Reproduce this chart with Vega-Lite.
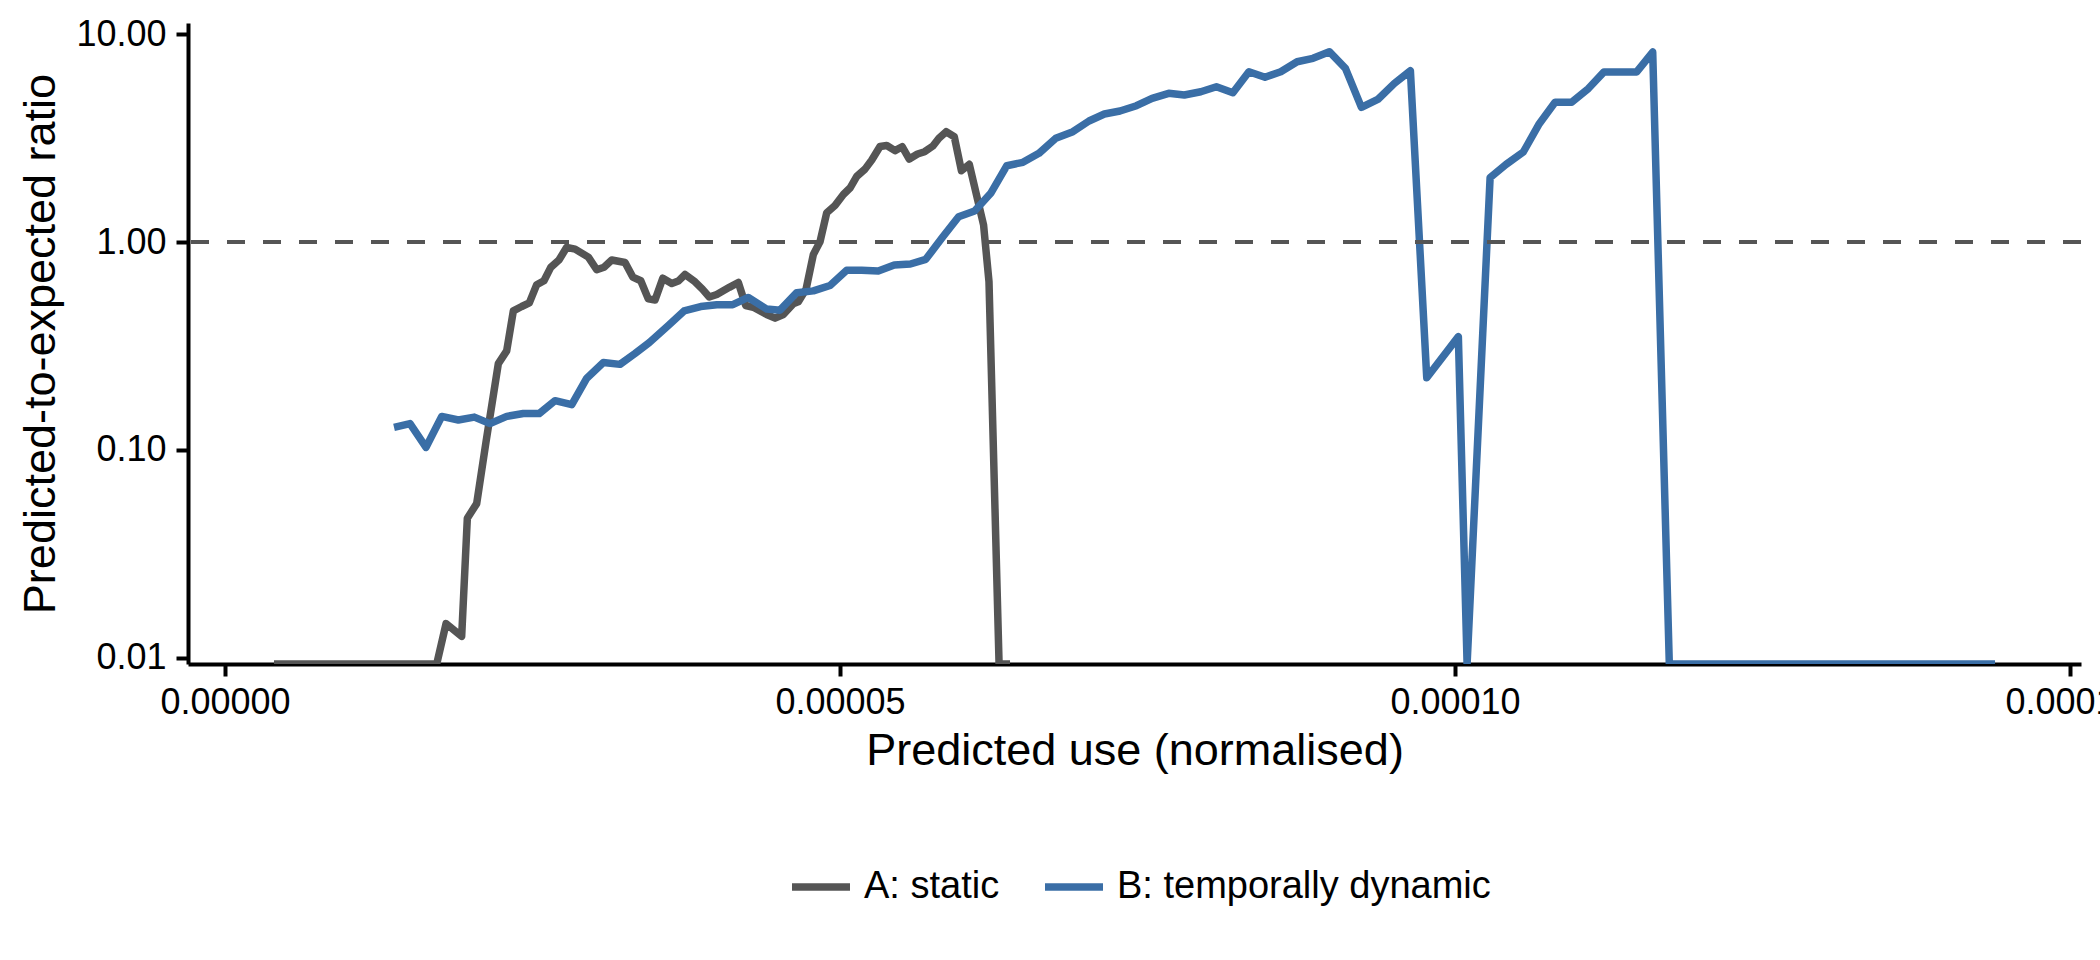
{
  "$schema": "https://vega.github.io/schema/vega-lite/v6.json",
  "width": 1893,
  "height": 641,
  "autosize": {"type": "none"},
  "padding": {"left": 188, "top": 23, "right": 19, "bottom": 296},
  "background": "white",
  "datasets": {
    "curves": [
      {"model": "A: static", "x": 0.398e-5, "r": 0.00935},
      {"model": "A: static", "x": 1.721e-5, "r": 0.00935},
      {"model": "A: static", "x": 1.797e-5, "r": 0.01463},
      {"model": "A: static", "x": 1.924e-5, "r": 0.0127},
      {"model": "A: static", "x": 1.970e-5, "r": 0.047},
      {"model": "A: static", "x": 2.046e-5, "r": 0.0552},
      {"model": "A: static", "x": 2.122e-5, "r": 0.1095},
      {"model": "A: static", "x": 2.222e-5, "r": 0.2602},
      {"model": "A: static", "x": 2.290e-5, "r": 0.2995},
      {"model": "A: static", "x": 2.344e-5, "r": 0.4664},
      {"model": "A: static", "x": 2.412e-5, "r": 0.4896},
      {"model": "A: static", "x": 2.474e-5, "r": 0.5096},
      {"model": "A: static", "x": 2.534e-5, "r": 0.6232},
      {"model": "A: static", "x": 2.593e-5, "r": 0.6514},
      {"model": "A: static", "x": 2.648e-5, "r": 0.7555},
      {"model": "A: static", "x": 2.715e-5, "r": 0.8193},
      {"model": "A: static", "x": 2.778e-5, "r": 0.943},
      {"model": "A: static", "x": 2.846e-5, "r": 0.9245},
      {"model": "A: static", "x": 2.954e-5, "r": 0.846},
      {"model": "A: static", "x": 3.022e-5, "r": 0.735},
      {"model": "A: static", "x": 3.081e-5, "r": 0.7555},
      {"model": "A: static", "x": 3.144e-5, "r": 0.8193},
      {"model": "A: static", "x": 3.252e-5, "r": 0.797},
      {"model": "A: static", "x": 3.315e-5, "r": 0.6782},
      {"model": "A: static", "x": 3.380e-5, "r": 0.6514},
      {"model": "A: static", "x": 3.441e-5, "r": 0.5325},
      {"model": "A: static", "x": 3.496e-5, "r": 0.5261},
      {"model": "A: static", "x": 3.559e-5, "r": 0.6698},
      {"model": "A: static", "x": 3.632e-5, "r": 0.631},
      {"model": "A: static", "x": 3.685e-5, "r": 0.6486},
      {"model": "A: static", "x": 3.740e-5, "r": 0.6979},
      {"model": "A: static", "x": 3.821e-5, "r": 0.6436},
      {"model": "A: static", "x": 3.881e-5, "r": 0.5935},
      {"model": "A: static", "x": 3.937e-5, "r": 0.5435},
      {"model": "A: static", "x": 3.998e-5, "r": 0.5594},
      {"model": "A: static", "x": 4.100e-5, "r": 0.6054},
      {"model": "A: static", "x": 4.173e-5, "r": 0.6385},
      {"model": "A: static", "x": 4.233e-5, "r": 0.4952},
      {"model": "A: static", "x": 4.295e-5, "r": 0.4854},
      {"model": "A: static", "x": 4.404e-5, "r": 0.448},
      {"model": "A: static", "x": 4.472e-5, "r": 0.4302},
      {"model": "A: static", "x": 4.539e-5, "r": 0.448},
      {"model": "A: static", "x": 4.620e-5, "r": 0.5056},
      {"model": "A: static", "x": 4.661e-5, "r": 0.5158},
      {"model": "A: static", "x": 4.724e-5, "r": 0.5935},
      {"model": "A: static", "x": 4.783e-5, "r": 0.8708},
      {"model": "A: static", "x": 4.837e-5, "r": 1.002},
      {"model": "A: static", "x": 4.892e-5, "r": 1.383},
      {"model": "A: static", "x": 4.959e-5, "r": 1.498},
      {"model": "A: static", "x": 5.027e-5, "r": 1.692},
      {"model": "A: static", "x": 5.081e-5, "r": 1.818},
      {"model": "A: static", "x": 5.136e-5, "r": 2.067},
      {"model": "A: static", "x": 5.203e-5, "r": 2.241},
      {"model": "A: static", "x": 5.258e-5, "r": 2.479},
      {"model": "A: static", "x": 5.325e-5, "r": 2.878},
      {"model": "A: static", "x": 5.380e-5, "r": 2.91},
      {"model": "A: static", "x": 5.447e-5, "r": 2.75},
      {"model": "A: static", "x": 5.505e-5, "r": 2.872},
      {"model": "A: static", "x": 5.563e-5, "r": 2.506},
      {"model": "A: static", "x": 5.630e-5, "r": 2.649},
      {"model": "A: static", "x": 5.688e-5, "r": 2.718},
      {"model": "A: static", "x": 5.755e-5, "r": 2.894},
      {"model": "A: static", "x": 5.804e-5, "r": 3.152},
      {"model": "A: static", "x": 5.863e-5, "r": 3.391},
      {"model": "A: static", "x": 5.929e-5, "r": 3.208},
      {"model": "A: static", "x": 5.987e-5, "r": 2.202},
      {"model": "A: static", "x": 6.051e-5, "r": 2.364},
      {"model": "A: static", "x": 6.167e-5, "r": 1.207},
      {"model": "A: static", "x": 6.211e-5, "r": 0.6443},
      {"model": "A: static", "x": 6.293e-5, "r": 0.00935},
      {"model": "A: static", "x": 6.382e-5, "r": 0.00935},
      {"model": "B: temporally dynamic", "x": 1.374e-5, "r": 0.1285},
      {"model": "B: temporally dynamic", "x": 1.504e-5, "r": 0.1339},
      {"model": "B: temporally dynamic", "x": 1.634e-5, "r": 0.103},
      {"model": "B: temporally dynamic", "x": 1.762e-5, "r": 0.145},
      {"model": "B: temporally dynamic", "x": 1.897e-5, "r": 0.1394},
      {"model": "B: temporally dynamic", "x": 2.027e-5, "r": 0.1439},
      {"model": "B: temporally dynamic", "x": 2.154e-5, "r": 0.1339},
      {"model": "B: temporally dynamic", "x": 2.290e-5, "r": 0.145},
      {"model": "B: temporally dynamic", "x": 2.425e-5, "r": 0.1498},
      {"model": "B: temporally dynamic", "x": 2.555e-5, "r": 0.1498},
      {"model": "B: temporally dynamic", "x": 2.683e-5, "r": 0.1726},
      {"model": "B: temporally dynamic", "x": 2.819e-5, "r": 0.1651},
      {"model": "B: temporally dynamic", "x": 2.941e-5, "r": 0.2214},
      {"model": "B: temporally dynamic", "x": 3.076e-5, "r": 0.2634},
      {"model": "B: temporally dynamic", "x": 3.211e-5, "r": 0.258},
      {"model": "B: temporally dynamic", "x": 3.333e-5, "r": 0.291},
      {"model": "B: temporally dynamic", "x": 3.450e-5, "r": 0.3287},
      {"model": "B: temporally dynamic", "x": 3.604e-5, "r": 0.3968},
      {"model": "B: temporally dynamic", "x": 3.732e-5, "r": 0.4664},
      {"model": "B: temporally dynamic", "x": 3.867e-5, "r": 0.4896},
      {"model": "B: temporally dynamic", "x": 3.998e-5, "r": 0.4995},
      {"model": "B: temporally dynamic", "x": 4.128e-5, "r": 0.4995},
      {"model": "B: temporally dynamic", "x": 4.254e-5, "r": 0.5411},
      {"model": "B: temporally dynamic", "x": 4.404e-5, "r": 0.4759},
      {"model": "B: temporally dynamic", "x": 4.512e-5, "r": 0.4701},
      {"model": "B: temporally dynamic", "x": 4.648e-5, "r": 0.5706},
      {"model": "B: temporally dynamic", "x": 4.783e-5, "r": 0.5821},
      {"model": "B: temporally dynamic", "x": 4.919e-5, "r": 0.618},
      {"model": "B: temporally dynamic", "x": 5.054e-5, "r": 0.7318},
      {"model": "B: temporally dynamic", "x": 5.176e-5, "r": 0.7318},
      {"model": "B: temporally dynamic", "x": 5.311e-5, "r": 0.7262},
      {"model": "B: temporally dynamic", "x": 5.441e-5, "r": 0.775},
      {"model": "B: temporally dynamic", "x": 5.572e-5, "r": 0.7838},
      {"model": "B: temporally dynamic", "x": 5.697e-5, "r": 0.8256},
      {"model": "B: temporally dynamic", "x": 5.833e-5, "r": 1.053},
      {"model": "B: temporally dynamic", "x": 5.964e-5, "r": 1.323},
      {"model": "B: temporally dynamic", "x": 6.094e-5, "r": 1.409},
      {"model": "B: temporally dynamic", "x": 6.225e-5, "r": 1.714},
      {"model": "B: temporally dynamic", "x": 6.356e-5, "r": 2.327},
      {"model": "B: temporally dynamic", "x": 6.487e-5, "r": 2.416},
      {"model": "B: temporally dynamic", "x": 6.617e-5, "r": 2.669},
      {"model": "B: temporally dynamic", "x": 6.754e-5, "r": 3.152},
      {"model": "B: temporally dynamic", "x": 6.893e-5, "r": 3.391},
      {"model": "B: temporally dynamic", "x": 7.024e-5, "r": 3.818},
      {"model": "B: temporally dynamic", "x": 7.149e-5, "r": 4.125},
      {"model": "B: temporally dynamic", "x": 7.276e-5, "r": 4.264},
      {"model": "B: temporally dynamic", "x": 7.410e-5, "r": 4.522},
      {"model": "B: temporally dynamic", "x": 7.537e-5, "r": 4.908},
      {"model": "B: temporally dynamic", "x": 7.672e-5, "r": 5.187},
      {"model": "B: temporally dynamic", "x": 7.799e-5, "r": 5.09},
      {"model": "B: temporally dynamic", "x": 7.933e-5, "r": 5.281},
      {"model": "B: temporally dynamic", "x": 8.060e-5, "r": 5.581},
      {"model": "B: temporally dynamic", "x": 8.194e-5, "r": 5.222},
      {"model": "B: temporally dynamic", "x": 8.324e-5, "r": 6.59},
      {"model": "B: temporally dynamic", "x": 8.455e-5, "r": 6.193},
      {"model": "B: temporally dynamic", "x": 8.583e-5, "r": 6.59},
      {"model": "B: temporally dynamic", "x": 8.716e-5, "r": 7.361},
      {"model": "B: temporally dynamic", "x": 8.845e-5, "r": 7.645},
      {"model": "B: temporally dynamic", "x": 8.978e-5, "r": 8.221},
      {"model": "B: temporally dynamic", "x": 9.109e-5, "r": 6.84},
      {"model": "B: temporally dynamic", "x": 9.239e-5, "r": 4.442},
      {"model": "B: temporally dynamic", "x": 9.376e-5, "r": 4.87},
      {"model": "B: temporally dynamic", "x": 9.507e-5, "r": 5.794},
      {"model": "B: temporally dynamic", "x": 9.637e-5, "r": 6.663},
      {"model": "B: temporally dynamic", "x": 9.770e-5, "r": 0.2226},
      {"model": "B: temporally dynamic", "x": 10.027e-5, "r": 0.3508},
      {"model": "B: temporally dynamic", "x": 10.098e-5, "r": 0.00935},
      {"model": "B: temporally dynamic", "x": 10.285e-5, "r": 2.038},
      {"model": "B: temporally dynamic", "x": 10.415e-5, "r": 2.361},
      {"model": "B: temporally dynamic", "x": 10.555e-5, "r": 2.708},
      {"model": "B: temporally dynamic", "x": 10.685e-5, "r": 3.706},
      {"model": "B: temporally dynamic", "x": 10.813e-5, "r": 4.7},
      {"model": "B: temporally dynamic", "x": 10.949e-5, "r": 4.7},
      {"model": "B: temporally dynamic", "x": 11.084e-5, "r": 5.47},
      {"model": "B: temporally dynamic", "x": 11.211e-5, "r": 6.574},
      {"model": "B: temporally dynamic", "x": 11.341e-5, "r": 6.574},
      {"model": "B: temporally dynamic", "x": 11.477e-5, "r": 6.574},
      {"model": "B: temporally dynamic", "x": 11.607e-5, "r": 8.194},
      {"model": "B: temporally dynamic", "x": 11.742e-5, "r": 0.00935},
      {"model": "B: temporally dynamic", "x": 14.390e-5, "r": 0.00935}
    ],
    "reference": [{"ratio": 1}]
  },
  "layer": [
    {
      "data": {"name": "curves"},
      "mark": {"type": "line", "strokeWidth": 7.5, "strokeJoin": "round", "clip": true},
      "encoding": {
        "x": {
          "field": "x",
          "type": "quantitative",
          "scale": {"domain": [-0.00000301, 0.00015089], "nice": false, "zero": false},
          "axis": {
            "title": "Predicted use (normalised)",
            "values": [0, 0.00005, 0.0001, 0.00015],
            "format": ".5f",
            "labelFlush": false,
            "labelPadding": 9,
            "titlePadding": 8
          }
        },
        "y": {
          "field": "r",
          "type": "quantitative",
          "scale": {"type": "log", "domain": [0.00935, 11.3], "nice": false},
          "axis": {
            "title": "Predicted-to-expected ratio",
            "values": [0.01, 0.1, 1, 10],
            "format": ".2f",
            "labelPadding": 10,
            "titlePadding": 12
          }
        },
        "color": {
          "field": "model",
          "type": "nominal",
          "scale": {
            "domain": ["A: static", "B: temporally dynamic"],
            "range": ["#555555", "#3A6EA6"]
          },
          "legend": {
            "title": null,
            "orient": "none",
            "direction": "horizontal",
            "legendX": 600,
            "legendY": 831,
            "symbolType": "stroke",
            "symbolSize": 3364,
            "symbolStrokeWidth": 7.5,
            "labelFontSize": 38,
            "labelColor": "black",
            "labelLimit": 0,
            "labelOffset": 10,
            "columnPadding": 30
          }
        }
      }
    },
    {
      "data": {"name": "reference"},
      "mark": {"type": "rule", "color": "#555555", "strokeWidth": 4, "strokeDash": [18, 18]},
      "encoding": {"y": {"field": "ratio", "type": "quantitative"}}
    }
  ],
  "config": {
    "font": "Liberation Sans",
    "view": {"stroke": null},
    "axis": {
      "grid": false,
      "domainColor": "black",
      "domainWidth": 4,
      "tickColor": "black",
      "tickWidth": 4,
      "tickSize": 12,
      "labelFontSize": 36,
      "labelColor": "black",
      "titleFontSize": 45,
      "titleFontWeight": "normal",
      "titleColor": "black",
      "zindex": 1
    },
    "legend": {"labelFont": "Liberation Sans"}
  }
}
